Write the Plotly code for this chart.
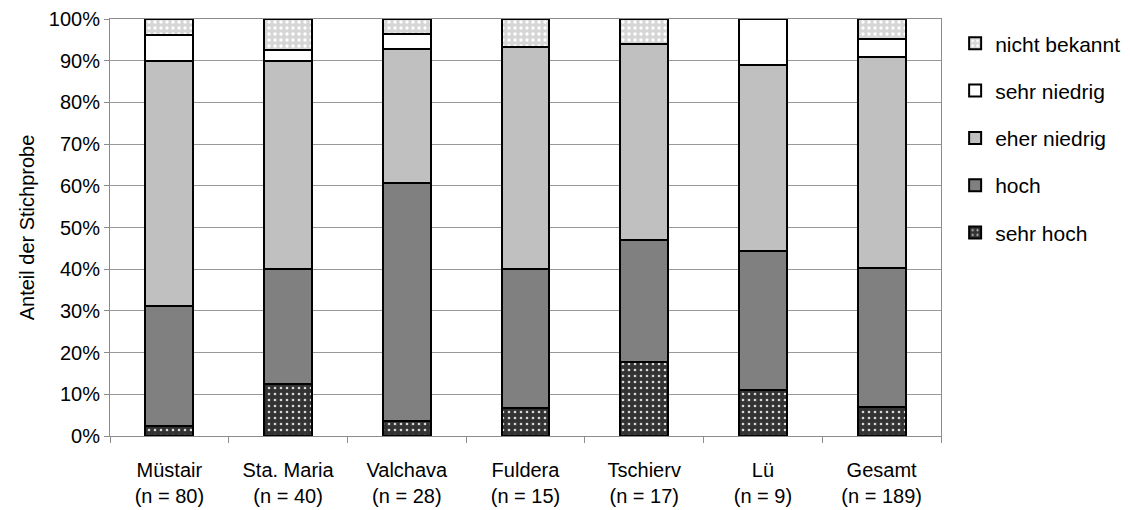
import plotly.graph_objects as go

# Villages surveyed and sample sizes
places = ["Müstair", "Sta. Maria", "Valchava", "Fuldera", "Tschierv", "Lü", "Gesamt"]
sample_n = [80, 40, 28, 15, 17, 9, 189]

# Number of respondents per answer category (stacked bottom to top)
sehr_hoch = [2, 5, 1, 1, 3, 1, 13]
hoch = [23, 11, 16, 5, 5, 3, 63]
eher_niedrig = [47, 20, 9, 8, 8, 4, 96]
sehr_niedrig = [5, 1, 1, 0, 0, 1, 8]
nicht_bekannt = [3, 3, 1, 1, 1, 0, 9]

tick_labels = [f"{p}<br>(n = {n})" for p, n in zip(places, sample_n)]

FONT = "Liberation Sans, Arial, sans-serif"


def share(counts):
    return [c / n for c, n in zip(counts, sample_n)]


series = [
    ("sehr hoch", sehr_hoch, dict(color="#333333",
                                  pattern=dict(shape=".", bgcolor="#333333", fgcolor="#d9d9d9",
                                               size=6, solidity=0.15, fillmode="replace"))),
    ("hoch", hoch, dict(color="#808080")),
    ("eher niedrig", eher_niedrig, dict(color="#c0c0c0")),
    ("sehr niedrig", sehr_niedrig, dict(color="#ffffff")),
    ("nicht bekannt", nicht_bekannt, dict(color="#d6d6d6",
                                          pattern=dict(shape=".", bgcolor="#d6d6d6", fgcolor="#ffffff",
                                                       size=6, solidity=0.25, fillmode="replace"))),
]

fig = go.Figure()
for rank, (name, counts, marker) in enumerate(series):
    marker = dict(marker)
    marker["line"] = dict(color="#000000", width=2)
    fig.add_trace(go.Bar(
        x=tick_labels,
        y=share(counts),
        name=name,
        legendgroup=name,
        legendrank=1000 - rank,
        marker=marker,
    ))

fig.update_layout(
    width=1130,
    height=510,
    margin=dict(l=110, r=189, t=19, b=74, autoexpand=False),
    paper_bgcolor="white",
    plot_bgcolor="white",
    barmode="stack",
    bargap=0.596,
    font=dict(family=FONT, size=20, color="#000000"),
    legend=dict(
        x=1.017, xanchor="left",
        y=0.99, yanchor="top",
        traceorder="grouped",
        tracegroupgap=17,
        font=dict(size=21),
        bgcolor="rgba(0,0,0,0)",
    ),
    showlegend=True,
)

fig.update_xaxes(
    type="category",
    automargin=False,
    showline=True, linecolor="#8c8c8c", linewidth=1, mirror=True,
    ticks="outside", tickson="boundaries", ticklen=6, tickcolor="#8c8c8c",
    showgrid=False,
    ticklabelstandoff=16,
    tickfont=dict(size=20),
)

fig.update_yaxes(
    range=[0, 1],
    automargin=False,
    tickvals=[i / 10 for i in range(11)],
    tickformat=".0%",
    showline=True, linecolor="#8c8c8c", linewidth=1, mirror=True,
    ticks="outside", ticklen=5, tickcolor="#8c8c8c",
    showgrid=True, gridcolor="#999999", gridwidth=1,
    zeroline=False,
    title=dict(text="Anteil der Stichprobe", font=dict(size=20), standoff=8),
    tickfont=dict(size=20),
)

fig.write_html("out.html")
